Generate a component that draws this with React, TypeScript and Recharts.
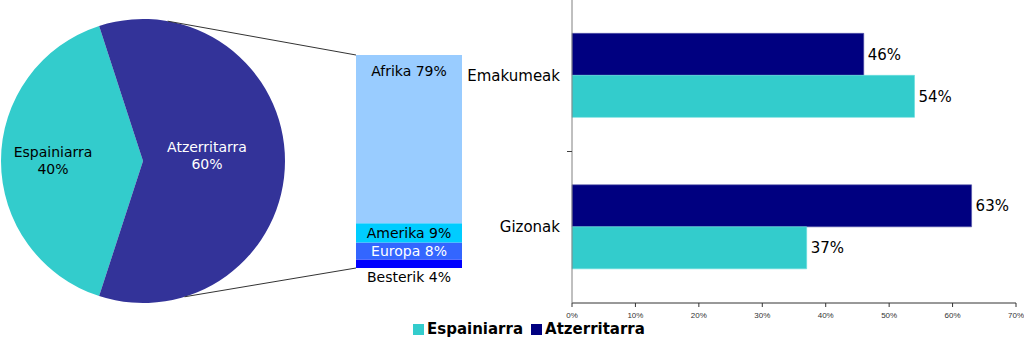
import { Bar, BarChart, CartesianGrid, Cell, LabelList, Pie, PieChart, XAxis, YAxis } from "recharts";

const originNames = ["Espainiarra", "Atzerritarra"];
const originShares = [40, 60];

const regionNames = ["Afrika", "Amerika", "Europa", "Besterik"];
const regionShares = [79, 9, 8, 4];

const genderNames = ["Emakumeak", "Gizonak"];
const spanishShares = [54, 37];
const foreignShares = [46, 63];

const pctTicks = [0, 10, 20, 30, 40, 50, 60, 70];

const FONT = "'DejaVu Sans', Verdana, sans-serif";
const PIE_COLORS = ["#33CCCC", "#333399"];
const REGION_COLORS = ["#99CCFF", "#00CCFF", "#3366FF", "#0000FF"];
const SPANISH = "#33CCCC";
const FOREIGN = "#000080";

// layout of the left half
const PIE_CX = 143;
const PIE_CY = 161;
const PIE_R = 142;
const STACK_LEFT = 356;
const STACK_TOP = 55;
const STACK_W = 106;
const STACK_H = 213;

const RAD = Math.PI / 180;

const pieData = originNames.map((name, i) => ({ name, value: originShares[i] }));
const stackRow = [Object.fromEntries([["name", "Atzerritarra"], ...regionNames.map((r, i) => [r, regionShares[i]])])];
const genderData = genderNames.map((name, i) => ({ name, esp: spanishShares[i], atz: foreignShares[i] }));

// label placement for pie slices: distance from centre and vertical nudge
const pieLabelPos = [
  { r: 90, dy: 0, fill: "#000" },
  { r: 64, dy: -5, fill: "#fff" },
];

const regionLabelStyle: Record<string, { place: "top" | "center" | "below"; fill: string }> = {
  Afrika: { place: "top", fill: "#000" },
  Amerika: { place: "center", fill: "#000" },
  Europa: { place: "center", fill: "#fff" },
  Besterik: { place: "below", fill: "#000" },
};

function renderPieLabel(props: any) {
  const { cx, cy, midAngle, index, name, value } = props;
  const pos = pieLabelPos[index];
  const x = cx + pos.r * Math.cos(-midAngle * RAD);
  const y = cy + pos.r * Math.sin(-midAngle * RAD) + pos.dy;
  return (
    <text x={x} y={y} textAnchor="middle" fill={pos.fill} fontSize={14} fontFamily={FONT}>
      <tspan x={x} dy={-4}>{name}</tspan>
      <tspan x={x} dy={17}>{value}%</tspan>
    </text>
  );
}

function regionLabel(name: string) {
  const st = regionLabelStyle[name];
  return (props: any) => {
    const vb = props.viewBox ?? props;
    const { x, y, width, height } = vb;
    let ty = y + height / 2;
    if (st.place === "top") ty = y + 16;
    if (st.place === "below") ty = y + height + 9;
    return (
      <text x={x + width / 2} y={ty} textAnchor="middle" dominantBaseline="central" fill={st.fill} fontSize={14} fontFamily={FONT}>
        {name} {props.value}%
      </text>
    );
  };
}

function CategoryTick(props: any) {
  const { x, y, payload, index } = props;
  const axisX = x + 12;
  const off = payload?.offset;
  return (
    <g>
      <text x={x} y={y} textAnchor="end" dominantBaseline="central" fill="#000" fontSize={15} fontFamily={FONT}>
        {payload.value}
      </text>
      {index === 0 && off ? <line x1={axisX - 5} x2={axisX} y1={y + off} y2={y + off} stroke="#404040" /> : null}
    </g>
  );
}

export default function App() {
  const topA = 80 * RAD;
  const botA = -73 * RAD;
  return (
    <div style={{ position: "absolute", left: 0, top: 0, width: 1024, height: 356, background: "#fff", fontFamily: FONT }}>
      <div style={{ position: "absolute", left: 0, top: 0 }}>
        <PieChart width={300} height={320} margin={{ top: 0, right: 0, bottom: 0, left: 0 }}>
          <Pie
            data={pieData}
            dataKey="value"
            nameKey="name"
            cx={PIE_CX}
            cy={PIE_CY}
            outerRadius={PIE_R}
            startAngle={108}
            endAngle={468}
            stroke="none"
            label={renderPieLabel}
            labelLine={false}
            isAnimationActive={false}
          >
            {pieData.map((d, i) => (
              <Cell key={d.name} fill={PIE_COLORS[i]} />
            ))}
          </Pie>
        </PieChart>
      </div>

      <svg width={1024} height={356} style={{ position: "absolute", left: 0, top: 0, pointerEvents: "none" }}>
        <line x1={PIE_CX + PIE_R * Math.cos(topA)} y1={PIE_CY - PIE_R * Math.sin(topA)} x2={STACK_LEFT} y2={STACK_TOP} stroke="#333" strokeWidth={1} />
        <line x1={PIE_CX + PIE_R * Math.cos(botA)} y1={PIE_CY - PIE_R * Math.sin(botA)} x2={STACK_LEFT} y2={STACK_TOP + STACK_H} stroke="#333" strokeWidth={1} />
      </svg>

      <div style={{ position: "absolute", left: STACK_LEFT, top: STACK_TOP }}>
        <BarChart width={STACK_W} height={STACK_H + 30} data={stackRow} margin={{ top: 0, right: 0, bottom: 30, left: 0 }} barCategoryGap={0}>
          <XAxis dataKey="name" type="category" hide />
          <YAxis type="number" domain={[0, 100]} hide />
          {[...regionNames].reverse().map((r) => (
            <Bar key={r} dataKey={r} stackId="a" fill={REGION_COLORS[regionNames.indexOf(r)]} isAnimationActive={false}>
              <LabelList dataKey={r} content={regionLabel(r)} />
            </Bar>
          ))}
        </BarChart>
      </div>

      <div style={{ position: "absolute", left: 460, top: 0 }}>
        <BarChart
          width={564}
          height={356}
          data={genderData}
          layout="vertical"
          margin={{ top: 0, right: 8, bottom: 0, left: 2 }}
          barCategoryGap="22%"
          barGap={0}
        >
          <CartesianGrid stroke="none" />
          <XAxis
            type="number"
            domain={[0, 70]}
            ticks={pctTicks}
            tickFormatter={(v) => `${v}%`}
            height={53}
            tickSize={4}
            tickMargin={5}
            axisLine={{ stroke: "#333" }}
            tickLine={{ stroke: "#333" }}
            tick={{ fill: "#333", fontSize: 8, fontFamily: "'Liberation Sans', Arial, sans-serif" }}
            interval={0}
          />
          <YAxis
            type="category"
            dataKey="name"
            width={110}
            tickSize={6}
            tickMargin={6}
            tickLine={false}
            axisLine={{ stroke: "#808080" }}
            tick={<CategoryTick />}
          />
          <Bar dataKey="atz" fill={FOREIGN} stroke="#5555aa" strokeWidth={0.6} isAnimationActive={false}>
            <LabelList dataKey="atz" position="right" offset={4} formatter={(v: any) => `${v}%`} fill="#000" fontSize={15} fontFamily={FONT} />
          </Bar>
          <Bar dataKey="esp" fill={SPANISH} stroke="#66dddd" strokeWidth={0.6} isAnimationActive={false}>
            <LabelList dataKey="esp" position="right" offset={4} formatter={(v: any) => `${v}%`} fill="#000" fontSize={15} fontFamily={FONT} />
          </Bar>
        </BarChart>
      </div>

      <div
        style={{
          position: "absolute",
          left: 413,
          top: 320,
          display: "flex",
          alignItems: "center",
          gap: 8,
          fontWeight: "bold",
          fontSize: 15,
          color: "#000",
          lineHeight: "18px",
          whiteSpace: "nowrap",
        }}
      >
        {[
          { name: originNames[0], color: SPANISH },
          { name: originNames[1], color: FOREIGN },
        ].map((s) => (
          <span key={s.name} style={{ display: "flex", alignItems: "center" }}>
            <span style={{ display: "inline-block", width: 11, height: 11, background: s.color, marginRight: 3 }} />
            {s.name}
          </span>
        ))}
      </div>
    </div>
  );
}
